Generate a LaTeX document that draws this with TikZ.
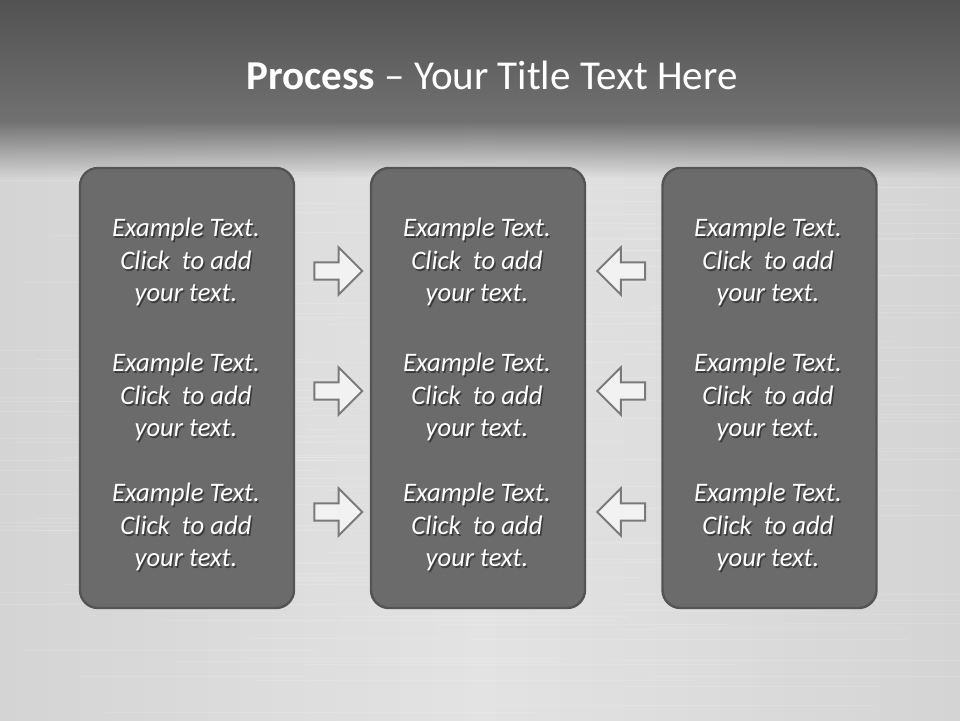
\documentclass[tikz,border=0pt]{standalone}
\usepackage{fontspec}
\setmainfont{Carlito}
\usetikzlibrary{shapes.arrows,fadings}
\definecolor{barTop}{HTML}{525252}
\definecolor{barBot}{HTML}{717171}
\definecolor{bgSide}{HTML}{D4D4D4}
\definecolor{bgMid}{HTML}{E3E3E3}
\definecolor{boxFill}{HTML}{6B6B6B}
\definecolor{boxLine}{HTML}{545454}
\definecolor{arLine}{HTML}{7A7A7A}
\tikzset{
  box/.style  ={draw=boxLine,line width=0.6mm,fill=boxFill,rounded corners=4.5mm,
                minimum width=53.5mm,minimum height=110mm},
  txt/.style  ={text=white,align=center,font=\fontsize{19}{23}\selectfont\itshape,inner sep=0pt},
  shd/.style  ={txt,text=black,text opacity=0.45},
  rar/.style  ={single arrow,draw=arLine,line width=0.5mm,fill=white!95!black,inner sep=1.9mm,
                minimum height=12mm,single arrow head extend=3.75mm},
  lar/.style  ={rar,shape border rotate=180},
}
\begin{document}
\begin{tikzpicture}[x=0.25mm,y=-0.25mm]
  \useasboundingbox (0,0) rectangle (960,720);
  % brushed background and title bar
  \shade[left color=bgSide,right color=bgSide,middle color=bgMid] (0,0) rectangle (960,720);
  \pgfmathsetseed{7}
  \foreach \i in {1,...,140}{
    \pgfmathsetmacro{\yy}{170+550*rnd}
    \pgfmathsetmacro{\xa}{-100+900*rnd}
    \draw[white,opacity=0.12,line width=0.15mm] (\xa,\yy) -- ++(150+300*rnd,0);
  }
  \shade[top color=barTop,bottom color=barBot] (0,0) rectangle (960,122);
  \fill[barBot,path fading=south] (0,121) rectangle (960,178);
  \node[text=white,font=\fontsize{29.2}{35}\selectfont,inner sep=0pt] (title) at (492,75)
    {\textbf{Process} -- Your Title Text Here};
  % columns
  \node[box] (left) at (187,388){};
  \node[box] (mid) at (478,388){};
  \node[box] (right) at (769.5,388){};
  \foreach \c/\x in {l/186,m/477,r/768}
    \foreach \r/\y in {1/262,2/397,3/527}{
      \node[shd] (s\c\r) at (\x+1.5,\y+2){Example Text.\\Click~ to add\\your text.};
      \node[txt] (t\c\r) at (\x,\y){Example Text.\\Click~ to add\\your text.};
    }
  % arrows
  \foreach \r/\y in {1/271,2/391,3/512}{
    \node[rar] (ra\r) at (334,\y){};
    \node[lar] (la\r) at (625.5,\y){};
  }
\end{tikzpicture}
\end{document}
